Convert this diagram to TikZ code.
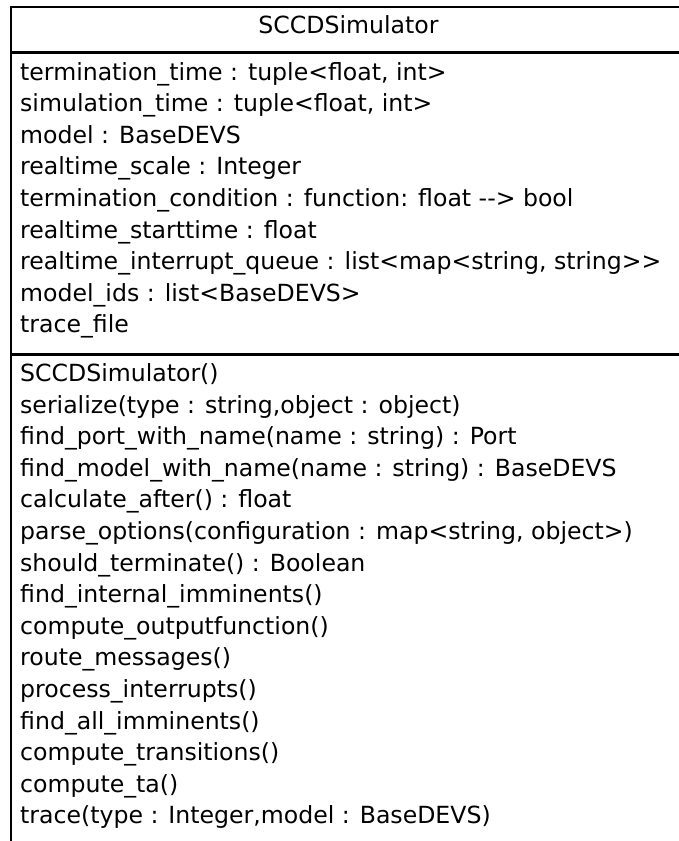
\documentclass[tikz,border=0pt]{standalone}
\usepackage{fontspec}
\setmainfont{DejaVu Sans}
\begin{document}
\begin{tikzpicture}[x=1pt,y=-1pt,
  member/.style={anchor=base west, inner sep=0pt, font=\fontsize{23.6}{28}\selectfont},
  heading/.style={anchor=base, inner sep=0pt, font=\fontsize{23.6}{28}\selectfont},
  frame/.style={line width=2pt, draw=black},
  compartment/.style={line width=3pt, draw=black}]
\useasboundingbox (0,0) rectangle (678,841);
\fill[white] (0,0) rectangle (678,841);

% outer frame: top edge and left edge, open to the right and bottom
\coordinate (topleft) at (11,7);
\coordinate (topright) at (700,7);
\coordinate (bottomleft) at (11,850);
\draw[frame] (topright) -- (topleft) -- (bottomleft);

% compartment separators
\coordinate (nameL) at (11,52.5);
\coordinate (nameR) at (700,52.5);
\coordinate (attrL) at (11,354);
\coordinate (attrR) at (700,354);
\draw[compartment] (nameL) -- (nameR);
\draw[compartment] (attrL) -- (attrR);

% class name
\node[heading] (classname) at (348.5,33) {SCCDSimulator};

% attributes
\foreach \txt [count=\i] in {
  {termination\_time : tuple<float, int>},
  {simulation\_time : tuple<float, int>},
  {model : BaseDEVS},
  {realtime\_scale : Integer},
  {termination\_condition : function: float -{}-> bool},
  {realtime\_starttime : float},
  {realtime\_interrupt\_queue : list<map<string, string>{}>},
  {model\_ids : list<BaseDEVS>},
  {trace\_file}}
  \node[member] (attr\i) at (20,{80+31.6*(\i-1)}) {\txt};

% operations
\foreach \txt [count=\i] in {
  {SCCDSimulator()},
  {serialize(type : string,object : object)},
  {find\_port\_with\_name(name : string) : Port},
  {find\_model\_with\_name(name : string) : BaseDEVS},
  {calculate\_after() : float},
  {parse\_options(configuration : map<string, object>)},
  {should\_terminate() : Boolean},
  {find\_internal\_imminents()},
  {compute\_outputfunction()},
  {route\_messages()},
  {process\_interrupts()},
  {find\_all\_imminents()},
  {compute\_transitions()},
  {compute\_ta()},
  {trace(type : Integer,model : BaseDEVS)}}
  \node[member] (op\i) at (20,{381.5+31.6*(\i-1)}) {\txt};
\end{tikzpicture}
\end{document}
